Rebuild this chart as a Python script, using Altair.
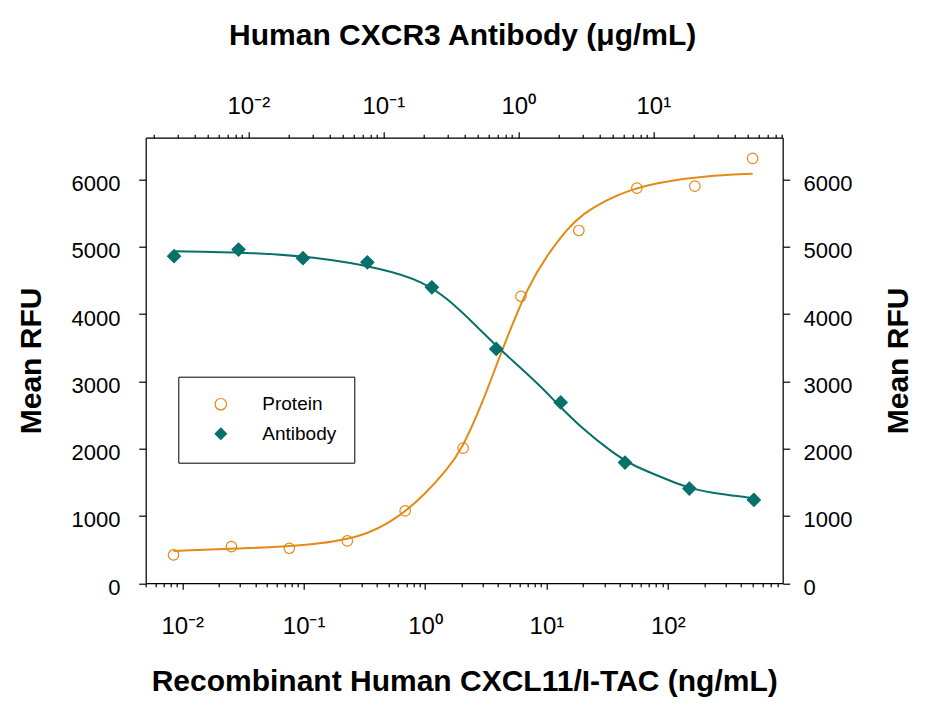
import altair as alt
import pandas as pd

# ---------------- data ----------------
series_names = ["Protein", "Antibody"]
series_shapes = ["circle", "diamond"]

# Protein: Recombinant Human CXCL11/I-TAC (ng/mL), bottom axis
protein_conc = [0.00847, 0.0254, 0.0762, 0.229, 0.686, 2.06, 6.17, 18.5, 55.6, 167, 500]
protein_rfu = [420, 543, 519, 628, 1074, 2007, 4263, 5241, 5871, 5900, 6313]

# Antibody: Human CXCR3 Antibody (ug/mL), top axis
antibody_conc = [0.00282, 0.00847, 0.0254, 0.0762, 0.229, 0.686, 2.06, 6.17, 18.5, 55.6]
antibody_rfu = [4859, 4958, 4829, 4769, 4397, 3481, 2686, 1793, 1406, 1238]

# fitted curves
protein_fit_conc = [0.00847, 0.03, 0.1, 0.3, 0.6, 1, 1.5, 2, 3, 4, 5, 7, 10, 15, 20, 30, 50, 100, 200, 500]
protein_fit_rfu = [479, 516, 554, 671, 970, 1320, 1680, 1975, 2700, 3307, 3753, 4393, 4862, 5278, 5487, 5680, 5859, 5976, 6048, 6085]
antibody_fit_conc = [0.00282, 0.01, 0.03, 0.1, 0.2, 0.3, 0.5, 0.7, 1, 1.5, 2, 3, 5, 7, 10, 15, 20, 30, 55.6]
antibody_fit_rfu = [4933, 4914, 4854, 4676, 4475, 4229, 3805, 3509, 3232, 2905, 2640, 2290, 1938, 1755, 1625, 1478, 1396, 1327, 1263]

# axis ticks and labels
bottom_major = [0.01, 0.1, 1, 10, 100]
bottom_labels = ["10⁻²", "10⁻¹", "10⁰", "10¹", "10²"]
bottom_minor = [0.005, 0.006, 0.007, 0.008, 0.009,
                0.02, 0.03, 0.04, 0.05, 0.06, 0.07, 0.08, 0.09,
                0.2, 0.3, 0.4, 0.5, 0.6, 0.7, 0.8, 0.9,
                2, 3, 4, 5, 6, 7, 8, 9,
                20, 30, 40, 50, 60, 70, 80, 90,
                200, 300, 400, 500, 600, 700, 800]
top_major = [0.01, 0.1, 1, 10]
top_labels = ["10⁻²", "10⁻¹", "10⁰", "10¹"]
top_minor = [0.002, 0.003, 0.004, 0.005, 0.006, 0.007, 0.008, 0.009,
             0.02, 0.03, 0.04, 0.05, 0.06, 0.07, 0.08, 0.09,
             0.2, 0.3, 0.4, 0.5, 0.6, 0.7, 0.8, 0.9,
             2, 3, 4, 5, 6, 7, 8, 9,
             20, 30, 40, 50, 60, 70, 80, 90]
y_ticks = [0, 1000, 2000, 3000, 4000, 5000, 6000]

bottom_domain = [0.005, 884]
top_domain = [0.001738, 90.9]
y_domain = [0, 6620]

# ---------------- styling ----------------
FONT = "Liberation Sans, Arial, sans-serif"
ORANGE = "#E38A17"
TEAL = "#06706A"
W, H = 637, 445.5
TITLE_SIZE = 30
TICK_SIZE_X = 24
TICK_SIZE_Y = 22


def label_expr(values, labels):
    parts = [f"abs(datum.value - {v}) < {v / 1000} ? '{lab}' : " for v, lab in zip(values, labels)]
    return "".join(parts) + "''"


common_axis = dict(grid=False, domainColor="black", tickColor="black", labelColor="black",
                   titleColor="black", domainWidth=1.2, tickWidth=1.2, labelFont=FONT,
                   titleFont=FONT, titleFontWeight="bold", titleFontSize=TITLE_SIZE)

bottom_major_axis = alt.Axis(orient="bottom", values=bottom_major,
                             labelExpr=label_expr(bottom_major, bottom_labels),
                             tickSize=6, labelFontSize=TICK_SIZE_X, labelPadding=25.4, labelOverlap=False,
                             labelFlush=False, title="Recombinant Human CXCL11/I-TAC (ng/mL)",
                             titleX=W / 2, titleY=107, titleBaseline="alphabetic", titleAlign="center",
                             **common_axis)
bottom_minor_axis = alt.Axis(orient="bottom", values=bottom_minor, labels=False, domain=False,
                             tickSize=3.5, title=None, grid=False, tickColor="black", tickWidth=1.2)
top_major_axis = alt.Axis(orient="top", values=top_major,
                          labelExpr=label_expr(top_major, top_labels),
                          tickSize=6, labelFontSize=TICK_SIZE_X, labelPadding=13.1, labelOverlap=False,
                          labelFlush=False, title="Human CXCR3 Antibody (μg/mL)",
                          titleX=W / 2 - 2, titleY=-93, titleBaseline="alphabetic", titleAlign="center",
                          **common_axis)
top_minor_axis = alt.Axis(orient="top", values=top_minor, labels=False, domain=False,
                          tickSize=3.5, title=None, grid=False, tickColor="black", tickWidth=1.2)
left_axis = alt.Axis(orient="left", values=y_ticks, format="d", tickSize=7, labelFontSize=TICK_SIZE_Y,
                     labelPadding=18.7, labelOffset=4, title="Mean RFU", titleX=-105, titleY=H / 2,
                     titleAngle=270, titleBaseline="alphabetic", titleAlign="center", **common_axis)
right_axis = alt.Axis(orient="right", values=y_ticks, format="d", tickSize=7, labelFontSize=TICK_SIZE_Y,
                      labelPadding=13.3, labelOffset=4, title="Mean RFU", titleX=125, titleY=H / 2,
                      titleAngle=270, titleBaseline="alphabetic", titleAlign="center", **common_axis)

x_bottom = alt.Scale(type="log", domain=bottom_domain, nice=False)
x_top = alt.Scale(type="log", domain=top_domain, nice=False)
y_scale = alt.Scale(domain=y_domain, nice=False, zero=True)
stroke_scale = alt.Scale(domain=series_names, range=[ORANGE, TEAL])
fill_scale = alt.Scale(domain=series_names, range=["transparent", TEAL])
shape_scale = alt.Scale(domain=series_names, range=series_shapes)

legend = alt.Legend(
    title=None, orient="none", legendX=32.6, legendY=239, padding=18, symbolOffset=15,
    labelOffset=32, rowPadding=9.6, labelFont=FONT, labelFontSize=19, labelColor="black",
    strokeColor="black", fillColor="white", symbolSize=130, symbolStrokeWidth=1.2,
)

protein_df = pd.DataFrame({"conc": protein_conc, "rfu": protein_rfu, "series": "Protein"})
antibody_df = pd.DataFrame({"conc": antibody_conc, "rfu": antibody_rfu, "series": "Antibody"})
protein_fit_df = pd.DataFrame({"conc": protein_fit_conc, "rfu": protein_fit_rfu})
antibody_fit_df = pd.DataFrame({"conc": antibody_fit_conc, "rfu": antibody_fit_rfu})


def series_channels():
    return dict(
        fill=alt.Fill("series:N", scale=fill_scale, legend=legend),
        stroke=alt.Stroke("series:N", scale=stroke_scale, legend=legend),
        shape=alt.Shape("series:N", scale=shape_scale, legend=legend),
    )


protein_line = alt.Chart(protein_fit_df).mark_line(color=ORANGE, strokeWidth=2, interpolate="basis").encode(
    x=alt.X("conc:Q", scale=x_bottom, axis=bottom_major_axis),
    y=alt.Y("rfu:Q", scale=y_scale, axis=left_axis),
)
protein_pts = alt.Chart(protein_df).mark_point(size=110, strokeWidth=1.2, opacity=1).encode(
    x=alt.X("conc:Q", scale=x_bottom, axis=bottom_minor_axis),
    y=alt.Y("rfu:Q", scale=y_scale, axis=left_axis),
    **series_channels(),
)
layer_protein = alt.layer(protein_line, protein_pts).resolve_axis(x="independent")

antibody_line = alt.Chart(antibody_fit_df).mark_line(color=TEAL, strokeWidth=2, interpolate="basis").encode(
    x=alt.X("conc:Q", scale=x_top, axis=top_major_axis),
    y=alt.Y("rfu:Q", scale=y_scale, axis=right_axis),
)
antibody_pts = alt.Chart(antibody_df).mark_point(size=170, strokeWidth=1.2, opacity=1).encode(
    x=alt.X("conc:Q", scale=x_top, axis=top_minor_axis),
    y=alt.Y("rfu:Q", scale=y_scale, axis=right_axis),
    **series_channels(),
)
layer_antibody = alt.layer(antibody_line, antibody_pts).resolve_axis(x="independent")

chart = (
    alt.layer(layer_protein, layer_antibody)
    .resolve_scale(x="independent")
    .resolve_axis(x="independent", y="independent")
    .properties(
        width=W, height=H,
        autosize=alt.AutoSizeParams(type="none"),
        padding={"left": 137.7, "top": 129.7, "right": 136.3, "bottom": 125.8},
    )
    .configure_view(strokeWidth=0)
    .configure(font=FONT)
)

chart.save("out.html", embed_options={"renderer": "svg", "actions": False})
